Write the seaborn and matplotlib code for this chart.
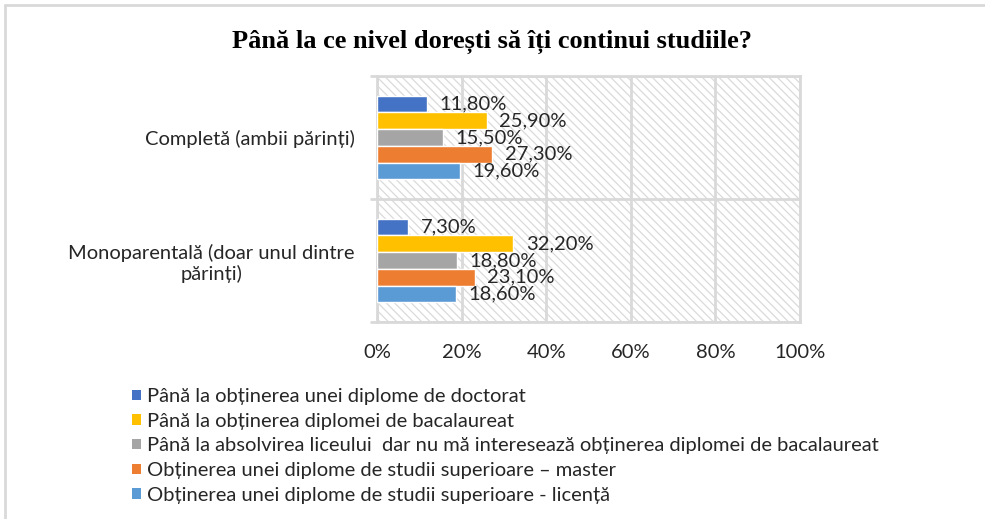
import matplotlib
matplotlib.use("Agg")
import matplotlib.pyplot as plt
import seaborn as sns
import pandas as pd
from matplotlib.patches import Rectangle, Patch
from matplotlib.lines import Line2D

# data
categories = ["Completă (ambii părinți)", "Monoparentală (doar unul dintre\npărinți)"]
levels = [
    "Până la obținerea unei diplome de doctorat",
    "Până la obținerea diplomei de bacalaureat",
    "Până la absolvirea liceului  dar nu mă interesează obținerea diplomei de bacalaureat",
    "Obținerea unei diplome de studii superioare – master",
    "Obținerea unei diplome de studii superioare - licență",
]
doctorat = [11.8, 7.3]
bacalaureat = [25.9, 32.2]
liceu = [15.5, 18.8]
master = [27.3, 23.1]
licenta = [19.6, 18.6]
colors = ["#4472C4", "#FFC000", "#A5A5A5", "#ED7D31", "#5B9BD5"]
xticks = [0, 20, 40, 60, 80, 100]

rows = []
for lvl, vals in zip(levels, [doctorat, bacalaureat, liceu, master, licenta]):
    for cat, v in zip(categories, vals):
        rows.append({"categorie": cat, "nivel": lvl, "procent": v})
df = pd.DataFrame(rows)

sns.set_theme(style="white")
plt.rcParams["font.family"] = ["Lato", "DejaVu Sans"]
plt.rcParams["hatch.color"] = "#DADADA"
plt.rcParams["hatch.linewidth"] = 0.9
grid_col = "#D9D9D9"
text_col = "#262626"

fig = plt.figure(figsize=(9.85, 5.19), dpi=100)
ax = fig.add_axes([377 / 985, 1 - 322 / 519, 423 / 985, 246 / 519])

# hatched plot background
ax.add_patch(Rectangle((0, 0), 1, 1, transform=ax.transAxes, facecolor="white",
                       edgecolor="#DADADA", hatch="\\\\\\\\", linewidth=0, zorder=0))

sns.barplot(data=df, y="categorie", x="procent", hue="nivel", hue_order=levels,
            order=categories, palette=colors, width=0.68, orient="h",
            legend=False, saturation=1, ax=ax, zorder=3)

for cont, vals in zip(ax.containers, [doctorat, bacalaureat, liceu, master, licenta]):
    labs = [f"{v:.2f}%".replace(".", ",") for v in vals]
    ax.bar_label(cont, labels=labs, padding=9, fontsize=14.5, color=text_col, zorder=4)

ax.set_xlim(0, 100)
ax.set_ylim(1.5, -0.5)
ax.set_xticks(xticks)
ax.set_xticklabels([f"{t}%" for t in xticks], fontsize=14.5, color=text_col)
ax.tick_params(axis="x", length=0, pad=16)
ax.set_yticks(range(len(categories)))
ax.set_yticklabels(categories, fontsize=14.5, color=text_col)
for lab in ax.get_yticklabels():
    lab.set_multialignment("center")
ax.tick_params(axis="y", which="major", length=0, pad=16)
ax.set_yticks([-0.5, 0.5, 1.5], minor=True)
ax.tick_params(axis="y", which="minor", length=5, width=2, color=grid_col, left=True)
ax.set_xlabel("")
ax.set_ylabel("")

ax.grid(axis="x", which="major", color=grid_col, linewidth=2, zorder=1)
ax.grid(axis="y", which="minor", color=grid_col, linewidth=2, zorder=1)
ax.set_axisbelow(True)
for side in ["left", "right", "top", "bottom"]:
    ax.spines[side].set_color(grid_col)
    ax.spines[side].set_linewidth(2)

fig.text(0.5, 1 - 42 / 519, "Până la ce nivel dorești să îți continui studiile?",
         ha="center", va="center", fontsize=19, fontweight="bold",
         family="Liberation Serif", color="black")

handles = [Patch(facecolor=c, edgecolor="none") for c in colors]
fig.legend(handles, levels, loc="upper left", bbox_to_anchor=(122 / 985, 1 - 378 / 519),
           frameon=False, fontsize=14.5, handlelength=0.42, handleheight=0.42,
           handletextpad=0.3, labelspacing=0.38, borderpad=0, labelcolor=text_col)

# outer chart border (top and left edges only visible)
fig.add_artist(Line2D([5 / 985, 1], [1 - 5 / 519, 1 - 5 / 519], transform=fig.transFigure,
                      color=grid_col, linewidth=2))
fig.add_artist(Line2D([5 / 985, 5 / 985], [0, 1 - 5 / 519], transform=fig.transFigure,
                      color=grid_col, linewidth=2))

fig.savefig("out.png", dpi=100)
